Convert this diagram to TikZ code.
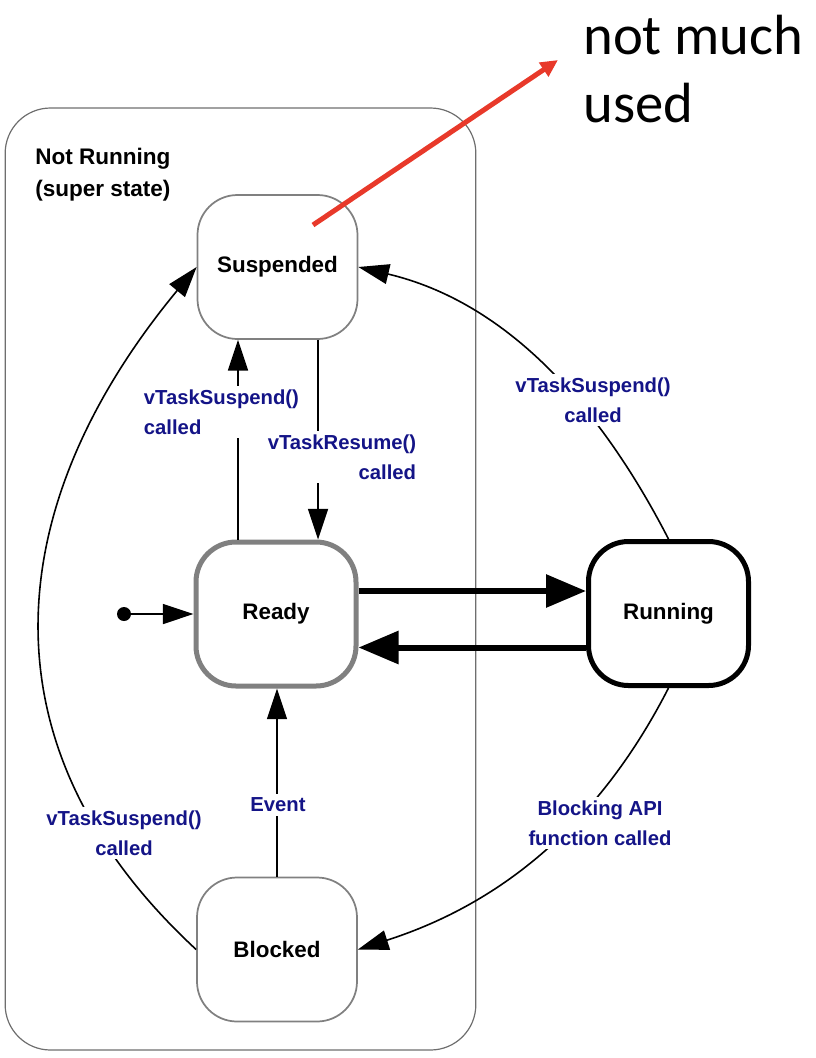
\documentclass[tikz,border=0pt]{standalone}
\usepackage{fontspec}
\setmainfont{Liberation Sans}
\newfontfamily\calib{Carlito}
\usetikzlibrary{arrows.meta}
\definecolor{stgray}{RGB}{128,128,128}
\definecolor{boxgray}{RGB}{110,110,110}
\definecolor{navy}{RGB}{20,20,135}
\definecolor{annred}{RGB}{232,57,42}
\begin{document}
\begin{tikzpicture}[x=0.75pt,y=-0.75pt,
  superbox/.style={rectangle, rounded corners=34pt, draw=boxgray, line width=0.9pt,
    minimum width=353pt, minimum height=706.5pt, inner sep=0pt},
  state/.style={rectangle, rounded corners=30pt, minimum width=120pt, minimum height=108pt,
    draw=stgray, line width=1.3pt, fill=white, inner sep=0pt,
    font=\fontsize{16.8}{20}\selectfont\bfseries},
  readystate/.style={state, line width=3.75pt},
  runstate/.style={state, draw=black, line width=3.75pt},
  lbl/.style={fill=white, text=navy, inner xsep=2pt, inner ysep=3pt,
    font=\fontsize{15.2}{22.5}\selectfont\bfseries},
  edge/.style={line width=1.2pt, -{Triangle[length=23pt,width=15pt]}},
  thick edge/.style={line width=4.5pt, -{Triangle[length=30pt,width=24pt]}},
  redarrow/.style={annred, line width=3.75pt, -{Triangle[length=13pt,width=12pt]}}
]
\useasboundingbox (0,0) rectangle (816,1058);

% super state
\node[superbox] (super) at (240.5,579) {};
\node[anchor=north west, align=left, inner sep=0pt,
  font=\fontsize{16.9}{24}\selectfont\bfseries] (suptitle) at (35,148)
  {Not Running\\(super state)};

% states
\node[state] (Suspended) at (277.5,267) {Suspended};
\node[readystate] (Ready) at (276,614) {Ready};
\node[runstate] (Running) at (668.5,613.5) {Running};
\node[state] (Blocked) at (277,949.5) {Blocked};

% initial pseudo state
\node[circle, fill=black, inner sep=0pt, minimum size=10.5pt] (init) at (124,614) {};
\draw[edge] (init) -- (Ready.west);

% Ready <-> Suspended
\draw[edge] ([xshift=-28.5pt]Ready.north) -- ([xshift=-28.5pt]Ready.north |- Suspended.south);
\draw[edge] ([xshift=30.4pt]Suspended.south) -- ([xshift=30.4pt]Suspended.south |- Ready.north);

% Ready <-> Running
\draw[thick edge] ([yshift=17.25pt]Ready.east) -- ([yshift=17.25pt]Ready.east -| Running.west);
\draw[thick edge] ([yshift=-25.5pt]Running.west) -- ([yshift=-25.5pt]Running.west -| Ready.east);

% Blocked -> Ready
\draw[edge] (Blocked.north) -- (Blocked.north |- Ready.south);

% Running -> Suspended
\draw[edge] (Running.north) .. controls (599,404) and (506,302) .. (Suspended.east);
% Running -> Blocked
\draw[edge] (Running.south) .. controls (600,822) and (503,903) .. (Blocked.east);
% Blocked -> Suspended
\draw[edge] (Blocked.west) .. controls (-27,743) and (4,500) .. (Suspended.west);

% labels
\node[lbl, align=left, anchor=west] (l1) at (141,412) {vTaskSuspend()\\called};
\node[lbl, align=right, anchor=east] (l2) at (419,457) {vTaskResume()\\called};
\node[lbl, align=center] (l3) at (278,805) {Event};
\node[lbl, align=center] (l4) at (593,400) {vTaskSuspend()\\called};
\node[lbl, align=center] (l5) at (600,823) {Blocking API\\function called};
\node[lbl, align=center] (l6) at (124,833) {vTaskSuspend()\\called};

% annotation
\node[anchor=north west, align=left, inner sep=0pt,
  font=\calib\fontsize{42.5}{51}\selectfont] (note) at (583,15) {not much\\used};
\coordinate (redstart) at (313,225);
\coordinate (redend) at (558,60);
\draw[redarrow] (redstart) -- (redend);
\end{tikzpicture}
\end{document}
